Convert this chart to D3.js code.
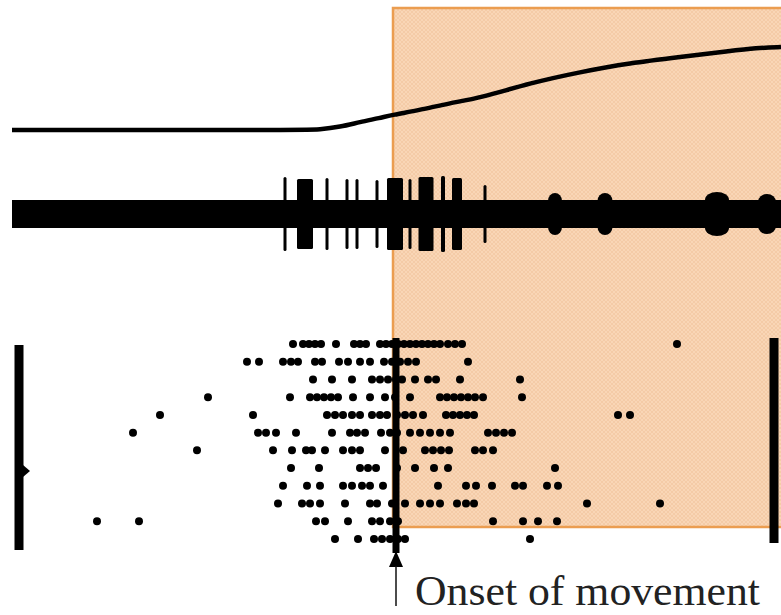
<!DOCTYPE html>
<html>
<head>
<meta charset="utf-8">
<script src="https://cdn.jsdelivr.net/npm/d3@7"></script>
<style>
  html, body { margin: 0; padding: 0; background: #fff; }
  svg { display: block; }
</style>
</head>
<body>
<svg id="svg" width="781" height="615"></svg>
<script>
// time is relative to movement onset (0), roughly ms
const timeDomain = [-396, 385]
const traceStart = -384
const movementWindow = [-3, 420]

// hand position (arbitrary units) vs time
const positionTrace = [
  [-384, 0], [-96, 0], [-76, 0.5], [-56, 3], [-36, 8], [-16, 12], [-4, 15],
  [24, 20], [54, 27], [84, 32], [134, 47], [184, 58], [234, 67], [284, 73],
  [334, 79], [360, 82], [385, 83]
]

// EMG background amplitude, spikes [time, width, amplitude], bumps [time, width, amplitude]
const emgBase = 14
const emgSpikes = [
  [-111, 3, 37], [-91, 16, 35], [-69, 3, 36], [-49, 3, 35], [-39, 3, 35],
  [-19, 3, 34], [-1, 16, 36], [14, 3, 35], [30, 15, 37], [47, 4, 38],
  [61, 10, 36], [89, 3, 29]
]
const emgBumps = [[159, 14, 21], [209, 15, 21], [321, 24, 22], [371, 18, 20]]

// spike times per trial (12 trials), aligned on movement onset
const trial1 = [-103, -93, -87, -81, -75, -60, -42, -36, -30, -16, -10, -4, 2, 8, 14, 20, 26, 32, 38, 44, 52, 59, 66, 281]
const trial2 = [-149, -137, -113, -105, -98, -81, -74, -57, -48, -36, -26, -12, -4, 4, 12, 20, 72]
const trial3 = [-83, -64, -44, -24, -16, -8, 0, 6, 19, 32, 40, 64, 124]
const trial4 = [-188, -106, -86, -79, -72, -65, -58, -43, -26, -11, -1, 14, 44, 51, 58, 65, 72, 79, 87, 126]
const trial5 = [-236, -143, -69, -61, -53, -44, -36, -24, -16, -9, 1, 9, 17, 27, 50, 57, 64, 71, 78, 222, 234]
const trial6 = [-263, -138, -130, -120, -100, -64, -46, -39, -31, -15, -6, 1, 14, 24, 34, 44, 54, 92, 100, 108, 116]
const trial7 = [-199, -123, -104, -90, -84, -71, -53, -44, -36, -11, 7, 29, 37, 45, 53, 79, 87, 97]
const trial8 = [-105, -77, -36, -28, -20, 1, 19, 38, 52, 159]
const trial9 = [-113, -89, -76, -53, -44, -34, -26, -13, 42, 70, 80, 96, 119, 127, 151, 162]
const trial10 = [-118, -94, -86, -76, -51, -26, -19, -4, 9, 24, 34, 44, 61, 70, 78, 191, 264]
const trial11 = [-299, -257, -80, -71, -48, -24, -16, -6, 2, 97, 127, 142, 161]
const trial12 = [-61, -38, -22, -14, -6, 2, 9, 134]
const trials = [trial1, trial2, trial3, trial4, trial5, trial6, trial7, trial8, trial9, trial10, trial11, trial12]

// bracket bars on each side of the raster
const rasterBars = [-377, 378]
const onsetLabel = "Onset of movement"

const svg = d3.select("#svg")

const x = d3.scaleLinear().domain(timeDomain).range([0, 781])
const posY = d3.scaleLinear().domain([0, 100]).range([130, 30])
const emgY = d3.scaleLinear().domain([-40, 40]).range([254, 174])
const trialY = d3.scalePoint().domain(d3.range(1, trials.length + 1)).range([344, 539])

// hatched peach fill for the movement period
const defs = svg.append("defs")
const pat = defs.append("pattern")
  .attr("id", "hatch")
  .attr("width", 4).attr("height", 4)
  .attr("patternUnits", "userSpaceOnUse")
pat.append("rect").attr("width", 4).attr("height", 4).attr("fill", "#f9d6b6")
pat.append("path").attr("d", "M0,4 L4,0 M0,0 L4,4")
  .attr("stroke", "#f2c8a3").attr("stroke-width", 0.8)

svg.append("rect")
  .attr("x", x(movementWindow[0]))
  .attr("y", 8)
  .attr("width", x(movementWindow[1]) - x(movementWindow[0]))
  .attr("height", 519)
  .attr("fill", "url(#hatch)")
  .attr("stroke", "#eb9d50")
  .attr("stroke-width", 2.5)

// position trace
svg.append("path")
  .datum(positionTrace)
  .attr("d", d3.line().x(d => x(d[0])).y(d => posY(d[1])).curve(d3.curveBasis))
  .attr("fill", "none")
  .attr("stroke", "#000")
  .attr("stroke-width", 4.5)

// EMG
const emg = svg.append("g").attr("fill", "#000")
emg.append("rect")
  .attr("x", x(traceStart))
  .attr("y", emgY(emgBase))
  .attr("width", x(timeDomain[1]) - x(traceStart))
  .attr("height", emgY(-emgBase) - emgY(emgBase))
emg.selectAll("rect.spike")
  .data(emgSpikes)
  .enter().append("rect")
  .attr("class", "spike")
  .attr("x", d => x(d[0] - d[1] / 2))
  .attr("y", d => emgY(d[2]))
  .attr("width", d => x(d[0] + d[1] / 2) - x(d[0] - d[1] / 2))
  .attr("height", d => emgY(-d[2]) - emgY(d[2]))
  .attr("rx", 1.5)
// rounded bulges after the burst
emg.selectAll("rect.bump")
  .data(emgBumps)
  .enter().append("rect")
  .attr("class", "bump")
  .attr("x", d => x(d[0] - d[1] / 2))
  .attr("y", d => emgY(d[2]))
  .attr("width", d => x(d[0] + d[1] / 2) - x(d[0] - d[1] / 2))
  .attr("height", d => emgY(-d[2]) - emgY(d[2]))
  .attr("rx", d => (x(d[1]) - x(0)) / 2)
  .attr("ry", 8)

// raster
const raster = svg.append("g")
trials.forEach((spikes, i) => {
  raster.selectAll(null)
    .data(spikes)
    .enter().append("circle")
    .attr("cx", d => x(d))
    .attr("cy", trialY(i + 1))
    .attr("r", 4)
    .attr("fill", "#000")
})

// bracket bars
svg.selectAll("line.bar")
  .data(rasterBars)
  .enter().append("line")
  .attr("class", "bar")
  .attr("x1", d => x(d)).attr("x2", d => x(d))
  .attr("y1", (d, i) => i === 0 ? 345 : 338)
  .attr("y2", (d, i) => i === 0 ? 550 : 543)
  .attr("stroke", "#000")
  .attr("stroke-width", 9)
svg.append("path")
  .attr("d", `M${x(rasterBars[0]) + 4},465 L${x(rasterBars[0]) + 11},471 L${x(rasterBars[0]) + 4},477 Z`)
  .attr("fill", "#000")

// onset marker
const ox = x(0)
svg.append("line")
  .attr("x1", ox).attr("x2", ox)
  .attr("y1", 338).attr("y2", 553)
  .attr("stroke", "#000").attr("stroke-width", 7)
svg.append("path")
  .attr("d", `M${ox},551 L${ox + 7},567 L${ox - 7},567 Z`)
  .attr("fill", "#000")
svg.append("line")
  .attr("x1", ox).attr("x2", ox)
  .attr("y1", 566).attr("y2", 606)
  .attr("stroke", "#111").attr("stroke-width", 1.5)

svg.append("text")
  .attr("x", 415)
  .attr("y", 605)
  .attr("font-family", "'Liberation Serif', 'DejaVu Serif', serif")
  .attr("font-size", 42)
  .attr("textLength", 345)
  .attr("lengthAdjust", "spacingAndGlyphs")
  .attr("fill", "#222")
  .text(onsetLabel)
</script>
</body>
</html>
